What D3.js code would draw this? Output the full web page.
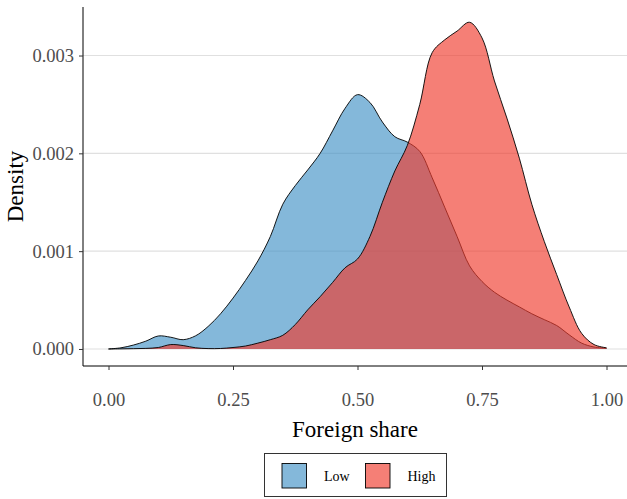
<!DOCTYPE html>
<html>
<head>
<meta charset="utf-8">
<script src="https://cdn.jsdelivr.net/npm/d3@7"></script>
<style>
  body { margin: 0; background: #fff; }
  svg { display: block; font-family: "Liberation Serif", "DejaVu Serif", serif; }
</style>
</head>
<body>
<svg id="chart" width="627" height="499"></svg>
<script>
// grid of foreign share values where the densities were read
const shares = d3.range(0, 41).map(i => i / 40);
// density (x 1000) for the "Low" group
const lowDensity = [0, 0.012, 0.04, 0.08, 0.133, 0.12, 0.095, 0.135, 0.23, 0.36,
    0.52, 0.70, 0.90, 1.15, 1.48, 1.67, 1.83, 2.00, 2.23, 2.46,
    2.60, 2.52, 2.32, 2.17, 2.115, 2.02, 1.75, 1.45, 1.15, 0.85,
    0.69, 0.58, 0.50, 0.43, 0.36, 0.30, 0.24, 0.145, 0.06, 0.02, 0.007];
// density (x 1000) for the "High" group
const highDensity = [0, 0.001, 0.003, 0.006, 0.015, 0.045, 0.035, 0.012, 0.004, 0.005,
    0.015, 0.03, 0.06, 0.095, 0.14, 0.25, 0.40, 0.535, 0.68, 0.83,
    0.92, 1.15, 1.50, 1.82, 2.08, 2.50, 3.03, 3.16, 3.25, 3.34,
    3.18, 2.74, 2.36, 1.95, 1.48, 1.10, 0.76, 0.43, 0.16, 0.045, 0.012];
const groups = ['Low', 'High'];
const groupColors = ['#4292c6', '#ef3b2c'];
const xTicks = [0, 0.25, 0.5, 0.75, 1];
const yTicks = [0, 0.001, 0.002, 0.003];

const W = 627, H = 499;
const padLeft = 83, padTop = 7, padBottom = 366;

const svg = d3.select('#chart');

const x = d3.scaleLinear().domain([-0.05, 1.05]).range([padLeft + 0.6, 631.4]);
const y = d3.scaleLinear().domain([-0.000174, 0.003496]).range([padBottom, padTop]);

// horizontal gridlines
svg.append('g')
   .selectAll('line')
   .data(yTicks)
   .enter().append('line')
   .attr('x1', padLeft).attr('x2', W)
   .attr('y1', d => y(d)).attr('y2', d => y(d))
   .attr('stroke', '#e0e0e0')
   .attr('stroke-width', 1.1);

let series = groups.map((g, i) => ({
    name: g,
    color: groupColors[i],
    values: shares.map((s, j) => ({x: s, d: (i === 0 ? lowDensity : highDensity)[j] / 1000}))
}));

let curve = d3.curveCatmullRom.alpha(0.5);
let area = d3.area()
    .x(p => x(p.x))
    .y0(y(0))
    .y1(p => y(p.d))
    .curve(curve);
let line = d3.line()
    .x(p => x(p.x))
    .y(p => y(p.d))
    .curve(curve);

series.forEach(s => {
    svg.append('path')
       .attr('d', area(s.values))
       .attr('fill', s.color)
       .attr('fill-opacity', 0.65);
    svg.append('path')
       .attr('d', line(s.values))
       .attr('fill', 'none')
       .attr('stroke', '#000')
       .attr('stroke-width', 0.9);
});

// axes
let xAxis = svg.append('g')
    .attr('transform', `translate(0,${padBottom})`)
    .call(d3.axisBottom(x).tickValues(xTicks).tickFormat(d3.format('.2f')).tickSize(4).tickPadding(0));
xAxis.select('.domain').attr('d', `M${padLeft},0H${W}`).attr('stroke', '#000');
xAxis.selectAll('.tick line').attr('stroke', '#333');
xAxis.selectAll('.tick text')
     .attr('y', 40).attr('dy', 0)
     .attr('fill', '#4d4d4d')
     .style('font-size', '18.5px')
     .style('font-family', '"Liberation Serif", serif');

let yAxis = svg.append('g')
    .attr('transform', `translate(${padLeft},0)`)
    .call(d3.axisLeft(y).tickValues(yTicks).tickFormat(d3.format('.3f')).tickSize(4).tickPadding(5));
yAxis.select('.domain').attr('d', `M0,${padTop}V${padBottom}`).attr('stroke', '#000');
yAxis.selectAll('.tick line').attr('stroke', '#333');
yAxis.selectAll('.tick text')
     .attr('fill', '#4d4d4d')
     .style('font-size', '18.5px')
     .style('font-family', '"Liberation Serif", serif');

// axis titles
svg.append('text')
   .attr('x', (padLeft + W) / 2).attr('y', 437)
   .attr('text-anchor', 'middle')
   .style('font-size', '23px')
   .text('Foreign share');
svg.append('text')
   .attr('transform', `translate(23,${(padTop + padBottom) / 2}) rotate(-90)`)
   .attr('text-anchor', 'middle')
   .style('font-size', '23px')
   .text('Density');

// legend
let legend = svg.append('g');
legend.append('rect')
      .attr('x', 264.5).attr('y', 453.5)
      .attr('width', 182).attr('height', 43)
      .attr('fill', '#fff').attr('stroke', '#333').attr('stroke-width', 1);
let keyX = [282, 365.5];
groups.forEach((g, i) => {
    legend.append('rect')
          .attr('x', keyX[i]).attr('y', 463.5)
          .attr('width', 24.5).attr('height', 24.5)
          .attr('fill', groupColors[i]).attr('fill-opacity', 0.65)
          .attr('stroke', '#000').attr('stroke-width', 0.9);
    legend.append('text')
          .attr('x', keyX[i] + 42).attr('y', 480.5)
          .style('font-size', '14px')
          .text(g);
});
</script>
</body>
</html>
